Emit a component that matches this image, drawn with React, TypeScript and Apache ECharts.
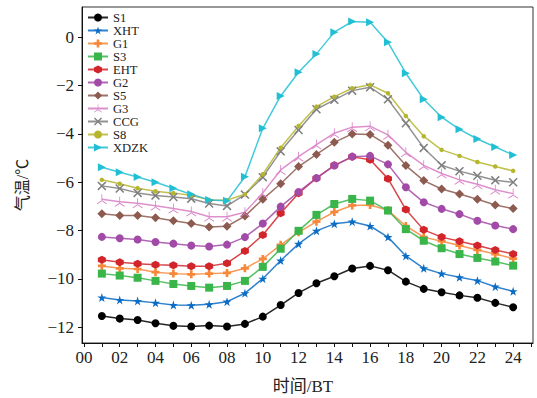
import React, { useEffect, useRef } from "react";
import * as echarts from "echarts";

const hours = [1, 2, 3, 4, 5, 6, 7, 8, 9, 10, 11, 12, 13, 14, 15, 16, 17, 18, 19, 20, 21, 22, 23, 24];
const xTickValues = [0, 1, 2, 3, 4, 5, 6, 7, 8, 9, 10, 11, 12, 13, 14, 15, 16, 17, 18, 19, 20, 21, 22, 23, 24, 25];
const xLabelValues = [0, 2, 4, 6, 8, 10, 12, 14, 16, 18, 20, 22, 24];
const yTickValues = [-12, -10, -8, -6, -4, -2, 0];

const seriesNames = ["S1", "XHT", "G1", "S3", "EHT", "G2", "S5", "G3", "CCG", "S8", "XDZK"];

const S1 = [-11.53, -11.64, -11.70, -11.83, -11.94, -11.97, -11.93, -11.97, -11.86, -11.56, -11.08, -10.58, -10.18, -9.89, -9.57, -9.46, -9.64, -10.11, -10.41, -10.55, -10.68, -10.78, -10.99, -11.17];
const XHT = [-10.77, -10.87, -10.91, -10.99, -11.08, -11.09, -11.05, -10.94, -10.59, -9.99, -9.24, -8.55, -8.01, -7.72, -7.63, -7.81, -8.27, -9.05, -9.56, -9.78, -9.93, -10.07, -10.32, -10.51];
const G1 = [-9.46, -9.56, -9.59, -9.72, -9.78, -9.81, -9.78, -9.75, -9.56, -9.17, -8.59, -8.07, -7.63, -7.23, -6.96, -6.94, -7.16, -7.81, -8.27, -8.44, -8.62, -8.80, -8.97, -9.16];
const S3 = [-9.78, -9.86, -9.95, -10.08, -10.21, -10.29, -10.36, -10.29, -10.08, -9.50, -8.75, -8.01, -7.35, -6.90, -6.69, -6.76, -7.17, -7.94, -8.42, -8.73, -8.97, -9.13, -9.28, -9.45];
const EHT = [-9.21, -9.31, -9.37, -9.41, -9.43, -9.47, -9.47, -9.35, -8.84, -8.18, -7.28, -6.45, -5.83, -5.30, -4.95, -5.07, -5.85, -7.13, -7.97, -8.27, -8.44, -8.62, -8.80, -8.97];
const G2 = [-8.26, -8.32, -8.37, -8.47, -8.54, -8.62, -8.66, -8.58, -8.27, -7.71, -7.01, -6.40, -5.83, -5.31, -4.94, -4.91, -5.26, -6.21, -6.83, -7.10, -7.32, -7.59, -7.79, -7.94];
const S5 = [-7.30, -7.38, -7.38, -7.47, -7.59, -7.71, -7.85, -7.82, -7.40, -6.70, -6.06, -5.35, -4.85, -4.35, -4.00, -4.02, -4.47, -5.31, -5.93, -6.28, -6.49, -6.70, -6.94, -7.09];
const G3 = [-6.70, -6.81, -6.87, -6.97, -7.09, -7.21, -7.43, -7.43, -7.24, -6.44, -5.49, -4.94, -4.44, -3.97, -3.72, -3.68, -4.04, -4.76, -5.30, -5.64, -5.90, -6.08, -6.31, -6.47];
const CCG = [-6.15, -6.26, -6.44, -6.55, -6.61, -6.68, -6.88, -6.98, -6.51, -5.79, -4.72, -3.84, -2.98, -2.59, -2.21, -2.07, -2.57, -3.56, -4.58, -5.30, -5.54, -5.73, -5.92, -6.00];
const S8 = [-5.90, -6.06, -6.25, -6.37, -6.45, -6.54, -6.73, -6.74, -6.50, -5.67, -4.57, -3.67, -2.87, -2.46, -2.11, -1.97, -2.32, -3.26, -4.10, -4.66, -4.91, -5.16, -5.35, -5.53];
const XDZK = [-5.38, -5.59, -5.78, -6.00, -6.25, -6.50, -6.73, -6.77, -5.77, -3.77, -2.43, -1.45, -0.69, 0.21, 0.65, 0.62, -0.21, -1.49, -2.57, -3.31, -3.81, -4.21, -4.54, -4.87];

const allValues = [S1, XHT, G1, S3, EHT, G2, S5, G3, CCG, S8, XDZK];

const colors = ["#000000", "#0a6cc4", "#f7883a", "#3ab54a", "#d1252b", "#a24aa8", "#8c5a4f", "#d87cc4", "#7f7f7f", "#b5b52e", "#21bfd3"];

const STAR = "path://M0,-1 L0.2245,-0.309 L0.951,-0.309 L0.363,0.118 L0.588,0.809 L0,0.382 L-0.588,0.809 L-0.363,0.118 L-0.951,-0.309 L-0.2245,-0.309 Z";
const PLUS = "path://M1,0 L2,0 L2,1 L3,1 L3,2 L2,2 L2,3 L1,3 L1,2 L0,2 L0,1 L1,1 Z";
const HEX = "path://M0,-1 L0.866,-0.5 L0.866,0.5 L0,1 L-0.866,0.5 L-0.866,-0.5 Z";
const XMARK = "path://M0,0.12 L0.12,0 L0.5,0.38 L0.88,0 L1,0.12 L0.62,0.5 L1,0.88 L0.88,1 L0.5,0.62 L0.12,1 L0,0.88 L0.38,0.5 Z";
const TRI = "path://M-0.07,0.05 L-0.07,-1 L0.07,-1 L0.07,0.05 Z M0.035,0.06 L-0.83,0.56 L-0.9,0.44 L-0.035,-0.06 Z M-0.035,0.06 L0.83,0.56 L0.9,0.44 L0.035,-0.06 Z";
const RTRI = "path://M0,0 L1,0.5 L0,1 Z";

const symbols = ["circle", STAR, PLUS, "rect", HEX, "circle", "diamond", TRI, XMARK, "circle", RTRI];
const symbolSizes = [8, 9, 8, 8, 8, 8, 9, 10, 9, 4.5, 8];

const SERIF = '"Liberation Serif", "DejaVu Serif", serif';
const CJK = '"Liberation Serif", "Noto Sans CJK SC", serif';

function fmtNum(v: number): string {
  const s = String(Math.abs(v));
  return v < 0 ? "\u2212" + s : s;
}

export default function App() {
  const ref = useRef<HTMLDivElement>(null);
  useEffect(() => {
    if (!ref.current) return;
    const chart = echarts.init(ref.current, undefined, { renderer: "svg" });
    const series = seriesNames.map((name, i) => ({
      name,
      type: "line",
      data: hours.map((h, j) => [h, allValues[i][j]]),
      symbol: symbols[i],
      symbolSize: symbolSizes[i],
      showSymbol: true,
      itemStyle: { color: colors[i], borderWidth: 0 },
      lineStyle: { color: colors[i], width: 1.5, opacity: 0.85 },
      emphasis: { disabled: true },
    }));
    chart.setOption({
      animation: false,
      grid: {
        left: 82,
        right: 4,
        top: 7,
        bottom: 55,
        show: true,
        borderColor: "#333",
        borderWidth: 1,
      },
      legend: {
        orient: "vertical",
        left: 87,
        top: 11,
        itemWidth: 20,
        itemHeight: 10,
        itemGap: 0,
        padding: 0,
        data: seriesNames,
        textStyle: { fontFamily: SERIF, fontSize: 12.6, color: "#222" },
      },
      xAxis: {
        type: "value",
        min: -0.11,
        max: 25.11,
        axisLine: { show: true, onZero: false, lineStyle: { color: "#111", width: 1 } },
        axisTick: { show: true, inside: false, length: 4, customValues: xTickValues, lineStyle: { color: "#111" } },
        axisLabel: {
          customValues: xLabelValues,
          margin: 6,
          fontFamily: SERIF,
          fontSize: 17,
          color: "#222",
          formatter: (v: number) => (v < 10 ? "0" + v : String(v)),
        },
        splitLine: { show: false },
      },
      yAxis: {
        type: "value",
        min: -12.65,
        max: 1.25,
        axisLine: { show: true, onZero: false, lineStyle: { color: "#111", width: 1 } },
        axisTick: { show: true, inside: false, length: 4, customValues: yTickValues, lineStyle: { color: "#111" } },
        axisLabel: {
          customValues: yTickValues,
          margin: 8,
          fontFamily: SERIF,
          fontSize: 17,
          color: "#222",
          formatter: (v: number) => fmtNum(v),
        },
        splitLine: { show: false },
      },
      graphic: [
        {
          type: "text",
          x: 22,
          y: 185,
          rotation: Math.PI / 2,
          style: {
            text: "气温/℃",
            font: `16px ${CJK}`,
            fill: "#222",
            align: "center",
            verticalAlign: "middle",
          },
        },
        {
          type: "text",
          x: 303,
          y: 386,
          style: {
            text: "时间/BT",
            font: `17px ${CJK}`,
            fill: "#222",
            align: "center",
            verticalAlign: "middle",
          },
        },
      ],
      series,
    });
    return () => chart.dispose();
  }, []);
  return <div ref={ref} style={{ width: 537, height: 398, position: "absolute", left: 0, top: 0 }} />;
}
